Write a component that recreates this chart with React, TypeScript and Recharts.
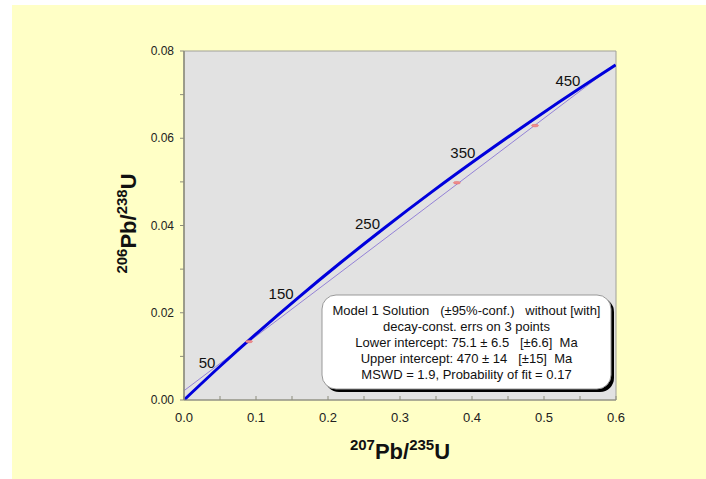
import { ComposedChart, Line, Scatter, XAxis, YAxis, ReferenceArea } from "recharts"

// concordia curve, read at 50 Ma steps (last point at the right edge)
const concordiaAges = [0, 50, 100, 150, 200, 250, 300, 350, 400, 450, 477]
const concordiaX = [0, 0.05048, 0.1035, 0.1592, 0.2177, 0.2792, 0.3437, 0.4116, 0.4828, 0.5576, 0.5996]
const concordiaY = [0, 0.00779, 0.01563, 0.02354, 0.03151, 0.03954, 0.04764, 0.0558, 0.06402, 0.0723, 0.0768]

const labelAges = [50, 150, 250, 350, 450]

// regression line (x = 0 to upper intercept)
const discordiaX = [0, 0.5886]
const discordiaY = [0.00213, 0.07563]

// the 3 analyses
const pointX = [0.0903, 0.379, 0.4875]
const pointY = [0.0134, 0.0498, 0.0629]

const xTicks = [0, 0.05, 0.1, 0.15, 0.2, 0.25, 0.3, 0.35, 0.4, 0.45, 0.5, 0.55, 0.6]
const xLabels = [0, 0.1, 0.2, 0.3, 0.4, 0.5, 0.6]
const yTicks = [0, 0.01, 0.02, 0.03, 0.04, 0.05, 0.06, 0.07, 0.08]
const yLabels = [0, 0.02, 0.04, 0.06, 0.08]

const resultLines = [
  "Model 1 Solution   (±95%-conf.)   without [with]",
  "decay-const. errs on 3 points",
  "Lower intercept: 75.1 ± 6.5   [±6.6]  Ma",
  "Upper intercept: 470 ± 14   [±15]  Ma",
  "MSWD = 1.9, Probability of fit = 0.17",
]

const concordia = concordiaAges.map((age, i) => ({ age, x: concordiaX[i], y: concordiaY[i] }))
const ageMarks = concordia.filter((d) => labelAges.includes(d.age))
const discordia = discordiaX.map((x, i) => ({ x, y: discordiaY[i] }))
const points = pointX.map((x, i) => ({ x, y: pointY[i] }))

const font = "'Liberation Sans', Arial, sans-serif"
const axisColor = "#8c8c7c"

function XTick(props: any) {
  const { x, y, payload } = props
  const major = xLabels.some((v) => Math.abs(v - payload.value) < 1e-9)
  return (
    <g>
      <line x1={x} x2={x} y1={y} y2={y - 4} stroke={axisColor} />
      {major && (
        <text x={x} y={y + 22} textAnchor="middle" fontSize={13} fontFamily={font} fill="#222">
          {payload.value.toFixed(1)}
        </text>
      )}
    </g>
  )
}

function YTick(props: any) {
  const { x, y, payload } = props
  const major = yLabels.some((v) => Math.abs(v - payload.value) < 1e-9)
  return (
    <g>
      <line x1={x - 4} x2={x} y1={y} y2={y} stroke={axisColor} />
      {major && (
        <text x={x - 10} y={y + 4} textAnchor="end" fontSize={12} fontFamily={font} fill="#222">
          {payload.value.toFixed(2)}
        </text>
      )}
    </g>
  )
}

function AgeLabel(props: any) {
  const { cx, cy, payload } = props
  return (
    <text x={cx - 5} y={cy + 1.5} textAnchor="end" fontSize={15} fontFamily={font} fill="#111">
      {payload.age}
    </text>
  )
}

function ErrEllipse(props: any) {
  const { cx, cy } = props
  return <ellipse cx={cx} cy={cy} rx={3.5} ry={1.3} fill="#f08c8c" stroke="#e06a6a" strokeWidth={0.5} />
}

export default function App() {
  return (
    <div style={{ position: "absolute", left: 0, top: 0, width: 706, height: 479, background: "#fff" }}>
      <div style={{ position: "absolute", left: 12, top: 5, right: 0, bottom: 0, background: "#ffffc6" }} />
      <div style={{ position: "absolute", left: 0, top: 0 }}>
        <ComposedChart width={706} height={479} margin={{ top: 51, right: 90, bottom: 49, left: 124 }}>
          <XAxis
            type="number"
            dataKey="x"
            domain={[0, 0.6]}
            ticks={xTicks}
            interval={0}
            allowDataOverflow
            tickSize={0}
            tickMargin={0}
            tickLine={false}
            axisLine={{ stroke: axisColor }}
            tick={<XTick />}
            height={30}
          />
          <YAxis
            type="number"
            dataKey="y"
            domain={[0, 0.08]}
            ticks={yTicks}
            interval={0}
            allowDataOverflow
            tickSize={0}
            tickMargin={0}
            tickLine={false}
            axisLine={{ stroke: axisColor, strokeWidth: 1.5 }}
            tick={<YTick />}
            width={60}
          />
          <ReferenceArea x1={0} x2={0.6} y1={0} y2={0.08} fill="#e2e2e2" fillOpacity={1} stroke="#a0a098" />
          <Line
            data={discordia}
            dataKey="y"
            stroke="#9482d6"
            strokeWidth={1}
            dot={false}
            isAnimationActive={false}
          />
          <Scatter data={points} dataKey="y" shape={<ErrEllipse />} isAnimationActive={false} />
          <Line
            data={concordia}
            dataKey="y"
            type="monotone"
            stroke="#0000dc"
            strokeWidth={3}
            dot={false}
            isAnimationActive={false}
          />
          <Scatter data={ageMarks} dataKey="y" shape={<AgeLabel />} isAnimationActive={false} />
        </ComposedChart>
      </div>
      <svg width={706} height={479} style={{ position: "absolute", left: 0, top: 0, pointerEvents: "none" }}>
        <rect x={325} y={298} width={289} height={94} rx={14} fill="#000" />
        <rect x={322} y={295} width={289} height={94} rx={14} fill="#fff" stroke="#999" strokeWidth={1} />
        {resultLines.map((t, i) => (
          <text
            key={i}
            x={466.5}
            y={314.5 + i * 16.2}
            textAnchor="middle"
            fontSize={13}
            fontFamily={font}
            fill="#111"
            style={{ whiteSpace: "pre" }}
          >
            {t}
          </text>
        ))}
        <text x={400} y={459} textAnchor="middle" fontFamily={font} fontWeight="bold" fill="#111">
          <tspan fontSize={15} dy={-9}>207</tspan>
          <tspan fontSize={22} dy={9}>Pb/</tspan>
          <tspan fontSize={15} dy={-9}>235</tspan>
          <tspan fontSize={22} dy={9}>U</tspan>
        </text>
        <text
          x={0}
          y={0}
          transform="translate(136,223.5) rotate(-90)"
          textAnchor="middle"
          fontFamily={font}
          fontWeight="bold"
          fill="#111"
        >
          <tspan fontSize={15} dy={-9}>206</tspan>
          <tspan fontSize={22} dy={9}>Pb/</tspan>
          <tspan fontSize={15} dy={-9}>238</tspan>
          <tspan fontSize={22} dy={9}>U</tspan>
        </text>
      </svg>
    </div>
  )
}
